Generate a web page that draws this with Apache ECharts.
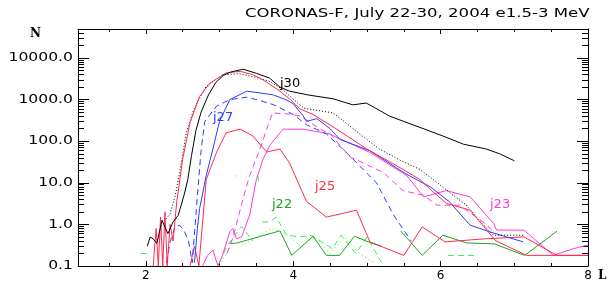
<!DOCTYPE html>
<html>
<head>
<meta charset="utf-8">
<script src="https://cdn.jsdelivr.net/npm/echarts@6/dist/echarts.min.js"></script>
<style>
  html, body { margin: 0; background: #fff; }
  #chart { width: 612px; height: 282px; }
</style>
</head>
<body>
<div id="chart"></div>
<script>
// [L, N] pairs, '-' = gap in the line
const j30 = [[2.02,0.3],[2.06,0.5],[2.1,0.45],[2.15,0.35],[2.22,1.25],[2.3,0.6],[2.37,1.15],[2.44,1.65],[2.48,2.9],[2.53,6],[2.57,12],[2.62,45],[2.68,180],[2.75,500],[2.85,1300],[2.95,2600],[3.05,3800],[3.15,4600],[3.32,5400],[3.5,4300],[3.68,3300],[3.82,2000],[3.95,1600],[4.2,1300],[4.54,1050],[4.81,750],[4.99,830],[5.1,650],[5.31,400],[5.5,300],[5.72,215],[6.03,134],[6.31,85],[6.62,65],[6.8,50],[7.0,34]];
const j30dot = [[2.25,1.2],[2.33,1.8],[2.4,5],[2.46,18],[2.55,160],[2.66,650],[2.82,2100],[3.05,4000],[3.28,4200],[3.5,3400],[3.68,2750],[3.85,1800],[3.98,1100],[4.15,620],[4.54,480],[4.7,290],[4.9,150],[5.17,65],[5.45,35],[5.72,21],[5.99,9],[6.17,5],[6.35,2.9],[6.53,1.2],[6.72,0.55],[7.12,0.55]];
const jRed = [[2.1,0.1],[2.14,0.8],[2.17,0.1],[2.2,1.5],[2.23,0.1],[2.26,2.0],[2.29,0.1],[2.33,1.0],[2.37,0.4],[2.42,3.5],[2.5,37],[2.6,280],[2.73,1200],[2.87,2500],[3.09,4400],[3.28,4800],[3.45,4000],[3.59,3000],[3.78,1800],[3.95,1050],[4.09,600],[4.27,440],[4.59,195],[5.0,65],[5.4,26],[5.72,12],[5.9,6],[6.08,3.2],[6.4,2.2],[6.75,0.4],[7.17,0.18],[8,0.18]];
const j25 = [[2.6,0.1],[2.66,0.3],[2.72,0.1],[2.82,12],[2.96,54],[3.09,160],[3.28,195],[3.45,135],[3.64,55],[3.82,65],[3.95,30],[4.18,3.6],[4.45,1.5],[4.86,2.2],[5.04,0.38],[5.5,0.18],[5.75,0.87],[6.06,0.38],[6.6,0.45],[7.13,0.5],[7.58,0.18],[8,0.18]];
const j27 = [[2.66,0.12],[2.7,0.8],[2.73,2.4],[2.82,15],[2.91,65],[3.0,300],[3.14,1000],[3.37,1600],[3.55,1450],[3.73,1300],[3.9,1000],[4.0,800],[4.13,420],[4.18,300],[4.32,350],[4.5,200],[4.63,112],[5.04,59],[5.54,16],[5.86,8],[6.12,3.5],[6.4,0.96],[6.67,0.66],[7.12,0.38]];
const j27dash = [[2.28,0.12],[2.33,0.38],[2.4,0.9],[2.46,0.95],[2.52,0.7],[2.58,0.4],[2.63,0.12],[2.7,5],[2.75,60],[2.8,300],[2.96,700],[3.14,1000],[3.37,1150],[3.55,950],[3.73,760],[4.0,440],[4.18,250],[4.45,150],[4.72,54],[5.13,10],[5.36,1.7],[5.6,0.4]];
const j23 = [[2.77,0.1],[2.84,0.18],[2.91,0.24],[2.98,0.1],[3.04,0.18],[3.14,0.66],[3.18,0.8],[3.23,0.45],[3.3,0.5],[3.41,1.7],[3.5,12],[3.59,37],[3.68,78],[3.86,195],[4.13,195],[4.5,150],[4.59,123],[5.04,54],[5.54,15],[5.77,4.6],[6.08,6.5],[6.4,4.6],[6.72,1.05],[6.76,0.73],[7.13,0.73],[7.53,0.18],[7.8,0.26],[8,0.32]];
const j23dash = [[3.1,0.2],[3.18,0.46],[3.32,4.2],[3.41,15],[3.55,65],[3.64,195],[3.72,480],[3.95,450],[4.1,400],[4.36,200],[4.5,150],[4.77,42],[5.22,18],[5.49,6.5],[5.77,5],[5.95,2.9],[6.26,2.9],[6.62,1.0],[6.71,0.68]];
const j22 = [[3.14,0.35],[3.22,0.35],[3.82,0.7],[3.98,0.18],[4.27,0.52],[4.45,0.18],[4.63,0.18],[4.83,0.52],[5.09,0.34],[5.2,0.3],[5.3,'-'],[5.46,0.69],[5.75,0.18],[6.03,0.55],[6.35,0.36],[6.73,0.34],[7.14,0.18],[7.58,0.69]];
const j22dash = [[1.93,0.2],[2.02,0.2],[2.5,'-'],[3.0,0.12],[3.1,0.3],[3.3,0.9],[3.45,0.4],[3.5,'-'],[3.52,15],[3.53,9],[3.55,'-'],[3.58,1.15],[3.68,1.15],[3.77,1.5],[3.91,0.55],[4.1,0.5],[4.25,0.55],[4.53,0.26],[4.65,0.55],[4.85,0.2],[5.0,0.5],[5.2,0.12],[5.5,'-'],[6.1,0.18],[6.5,0.18]];
const j22dot = [[3.0,0.1],[3.15,0.3],[3.2,'-'],[3.22,15],[3.23,12],[3.25,'-'],[3.3,0.3],[3.5,0.5],[3.7,0.8],[3.9,0.6],[4.1,0.3],[4.3,0.5],[4.5,0.2],[4.7,0.5],[4.9,0.2],[5.1,0.12]];

const xMajor = [2, 4, 6, 8];
const xMinor = [1.5, 2.5, 3, 3.5, 4.5, 5, 5.5, 6.5, 7, 7.5];
const yMajor = [0.1, 1, 10, 100, 1000, 10000];
const yMinor = [];
yMajor.forEach(d => {
  for (let k = 2; k <= 9; k++) if (d * k < 50000) yMinor.push(+(d * k).toPrecision(3));
});

const RED = '#ff2a50', MAG = '#ff3ad8', BLUE = '#2a3cff', GREEN = '#1ea31e', LGREEN = '#30f050';

const curves = [
  { data: j22dot, color: LGREEN, type: [1, 3] },
  { data: j22dash, color: LGREEN, type: [6, 4] },
  { data: j22, color: GREEN, type: 'solid' },
  { data: j23dash, color: MAG, type: [6, 4] },
  { data: j23, color: MAG, type: 'solid' },
  { data: j25, color: RED, type: 'solid' },
  { data: j27dash, color: BLUE, type: [6, 4] },
  { data: j27, color: BLUE, type: 'solid' },
  { data: j30dot, color: '#000', type: [1, 2] },
  { data: jRed, color: RED, type: 'solid' },
  { data: j30, color: '#000', type: 'solid' }
];

const chart = echarts.init(document.getElementById('chart'));

function xAx(pos, ticks, len, showLine, labels) {
  return {
    type: 'value', min: 1.08, max: 8, position: pos,
    axisLine: { show: showLine, onZero: false, lineStyle: { color: '#000', width: 1 } },
    axisTick: { inside: true, length: len, customValues: ticks, lineStyle: { color: '#000' } },
    axisLabel: labels ? { customValues: xMajor, margin: 4, color: '#000', fontSize: 12, fontFamily: 'DejaVu Sans' } : { show: false },
    splitLine: { show: false }
  };
}
function yAx(pos, ticks, len, showLine) {
  return {
    type: 'log', min: 0.1, max: 50000, position: pos,
    axisLine: { show: showLine, onZero: false, lineStyle: { color: '#000', width: 1 } },
    axisTick: { inside: true, length: len, customValues: ticks, lineStyle: { color: '#000' } },
    axisLabel: { show: false },
    splitLine: { show: false }, minorTick: { show: false }
  };
}

const font = '12px "DejaVu Sans"';
const notes = [
  { text: 'j30', x: 280, y: 77, color: '#000' },
  { text: 'j27', x: 213, y: 111, color: BLUE },
  { text: 'j25', x: 315, y: 180, color: RED },
  { text: 'j22', x: 272, y: 198, color: GREEN },
  { text: 'j23', x: 490, y: 198, color: MAG }
];

chart.setOption({
  animation: false,
  grid: { left: 78, right: 24, top: 29, bottom: 14 },
  xAxis: [
    xAx('bottom', xMajor, 5, true, true),
    xAx('bottom', xMinor, 3, false, false),
    xAx('top', xMajor, 5, true, false),
    xAx('top', xMinor, 3, false, false)
  ],
  yAxis: [
    yAx('left', yMajor.concat([50000]), 11, true),
    yAx('left', yMinor, 6, false),
    yAx('right', yMajor.concat([50000]), 11, true),
    yAx('right', yMinor, 6, false)
  ],
  series: curves.map(c => ({
    type: 'line', data: c.data, showSymbol: false, symbol: 'none', silent: true,
    lineStyle: { color: c.color, width: 1, type: c.type }
  }))
});

// y tick labels: placed on the axis scale, stretched to the wide plotter font
const labels = yMajor.map(v => ({
  type: 'text', x: 73, y: chart.convertToPixel({ yAxisIndex: 0 }, v), scaleX: 1.3,
  style: { text: v.toFixed(1), font: font, fill: '#000', align: 'right', verticalAlign: 'middle' }
}));

chart.setOption({
  graphic: labels.concat([
    { type: 'text', x: 245, y: 8, scaleX: 1.38, style: { text: 'CORONAS-F, July 22-30, 2004 e1.5-3 MeV', font: font, fill: '#000' } },
    { type: 'text', x: 30, y: 28, style: { text: 'N', font: 'bold 12px "DejaVu Serif"', fill: '#000' } },
    { type: 'text', x: 598, y: 270, style: { text: 'L', font: 'bold 12px "DejaVu Serif"', fill: '#000' } }
  ], notes.map(n => ({
    type: 'text', x: n.x, y: n.y, style: { text: n.text, font: '13px "DejaVu Sans"', fill: n.color }
  })))
});
</script>
</body>
</html>
